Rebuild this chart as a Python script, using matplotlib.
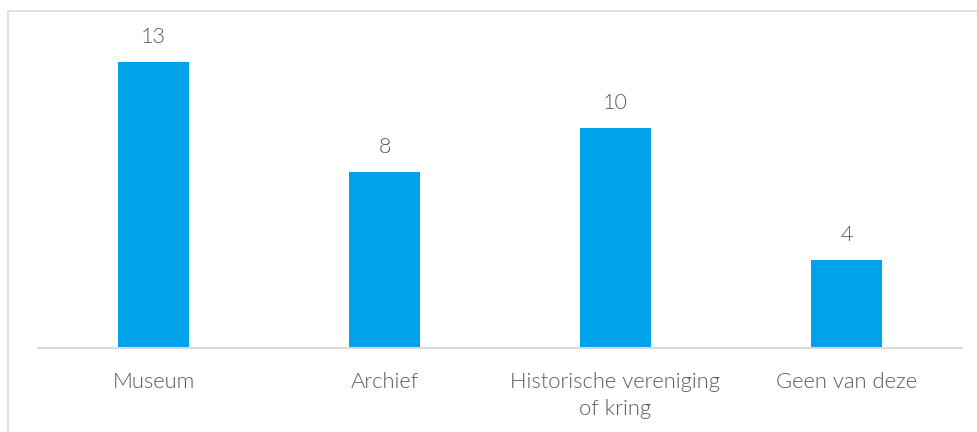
import matplotlib.pyplot as plt
from matplotlib.patches import Rectangle

categories = ["Museum", "Archief", "Historische vereniging\nof kring", "Geen van deze"]
counts = [13, 8, 10, 4]

W, H = 978, 432
BLUE = "#00A2E8"
GREY = "#595959"

plt.rcParams['font.family'] = ['Lato', 'DejaVu Sans']

fig = plt.figure(figsize=(W / 100, H / 100), dpi=100)

# light grey frame, cut off on the right and bottom like the screenshot
fig.patches.append(Rectangle((8 / W, -0.1), 1.2, 1 - 11 / H + 0.1,
                             transform=fig.transFigure, fill=False,
                             edgecolor="#D9D9D9", linewidth=1.2))

# axes: x from 38 to 962 px, baseline at y=348, 15 units = 330 px
ax = fig.add_axes([38 / W, 1 - 348 / H, 924 / W, 330 / H])
x = range(len(categories))
bars = ax.bar(x, counts, width=0.31, color=BLUE)

ax.set_xlim(-0.5, len(categories) - 0.5)
ax.set_ylim(0, 15)
for s in ["top", "right", "left"]:
    ax.spines[s].set_visible(False)
ax.spines["bottom"].set_color("#D9D9D9")
ax.spines["bottom"].set_linewidth(1.5)
ax.set_yticks([])
ax.set_xticks(list(x))
ax.set_xticklabels(categories, fontsize=15.8, color=GREY, fontweight=300,
                   linespacing=1.45)
ax.tick_params(axis="x", length=0, pad=17)

for b, v in zip(bars, counts):
    ax.annotate(str(v), (b.get_x() + b.get_width() / 2, v),
                xytext=(0, 11), textcoords="offset points",
                ha="center", va="bottom", fontsize=15.5, color=GREY,
                fontweight=300)

fig.savefig("out.png", dpi=100)
